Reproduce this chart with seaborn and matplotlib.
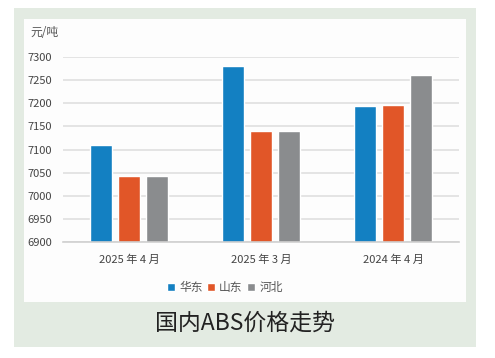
import pandas as pd
import matplotlib.pyplot as plt
import seaborn as sns
from matplotlib.patches import Rectangle

# 数据
months = ['2025 年 4 月', '2025 年 3 月', '2024 年 4 月']
regions = ['华东', '山东', '河北']
huadong = [7110, 7280, 7194]
shandong = [7042, 7140, 7197]
hebei = [7043, 7140, 7261]
colors = ['#1380c2', '#e15628', '#8a8c8e']

df = pd.DataFrame({
    'month': months * 3,
    'region': [r for r in regions for _ in months],
    'price': huadong + shandong + hebei,
})

sns.set_style('white')
plt.rcParams['font.family'] = ['Noto Sans CJK SC', 'DejaVu Sans']

W, H = 495, 358
fig = plt.figure(figsize=(W / 100, H / 100), dpi=100)
fig.patch.set_facecolor('white')

# 背景面板
fig.patches.append(Rectangle((14 / W, 1 - 347 / H), 462 / W, 339 / H,
                             transform=fig.transFigure, facecolor='#e3ebe2',
                             edgecolor='none', zorder=-2))
fig.patches.append(Rectangle((24 / W, 1 - 302 / H), 442 / W, 283 / H,
                             transform=fig.transFigure, facecolor='#fdfdfd',
                             edgecolor='none', zorder=-1))

ax = fig.add_axes([63 / W, 1 - 242 / H, 396 / W, 185 / H])
ax.set_facecolor('none')

sns.barplot(data=df, x='month', y='price', hue='region', order=months,
            hue_order=regions, palette=colors, width=0.636, gap=0.21,
            saturation=1, ax=ax, legend=False)

ax.set_ylim(6900, 7300)
ax.set_xlim(-0.5, 2.5)
ax.set_yticks(range(6900, 7301, 50))
ax.yaxis.grid(True, color='#e0e0e0', linewidth=1.2)
ax.set_axisbelow(True)
for s in ['top', 'right', 'left']:
    ax.spines[s].set_visible(False)
ax.spines['bottom'].set_color('#d0d0d0')
ax.spines['bottom'].set_linewidth(1.2)
ax.tick_params(axis='both', length=0, labelsize=8, colors='#444444')
ax.tick_params(axis='y', pad=8)
ax.tick_params(axis='x', pad=9)
ax.set_xlabel('')
ax.set_ylabel('')

fig.text(30 / W, 1 - 32 / H, '元/吨', fontsize=8.5, color='#555555',
         ha='left', va='center')

handles = [Rectangle((0, 0), 1, 1, facecolor=c) for c in colors]
fig.legend(handles, regions, loc='center', bbox_to_anchor=(225 / W, 1 - 288 / H),
           ncol=3, frameon=False, fontsize=8.5, handlelength=0.65, handleheight=0.65,
           handletextpad=0.35, columnspacing=0.4, labelcolor='#555555')

fig.text(245 / W, 1 - 323 / H, '国内ABS价格走势', fontsize=16.5, color='#222222',
         ha='center', va='center')

fig.savefig('out.png', dpi=100)
